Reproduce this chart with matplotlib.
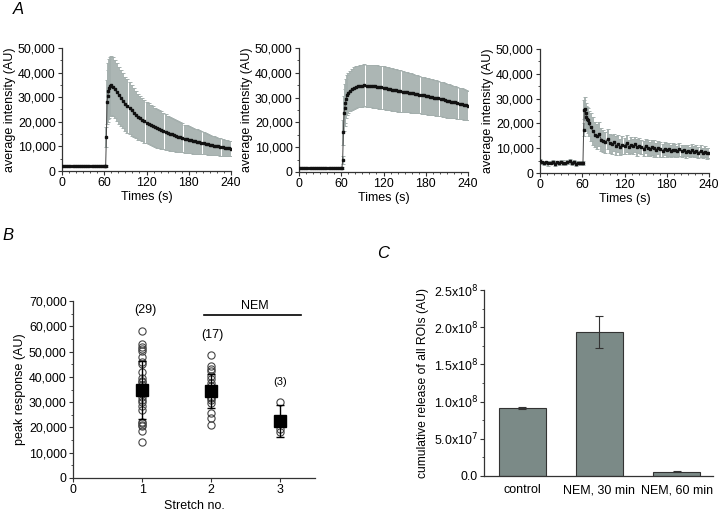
import matplotlib
matplotlib.use("Agg")
import matplotlib.pyplot as plt
from matplotlib.ticker import MultipleLocator, FuncFormatter, FixedLocator

plt.rcParams.update({
    "font.family": ["Liberation Sans", "DejaVu Sans"],
    "font.size": 8.9,
    "axes.linewidth": 0.9,
    "axes.edgecolor": "#333333",
    "xtick.color": "#333333",
    "ytick.color": "#333333",
    "xtick.labelcolor": "black",
    "ytick.labelcolor": "black",
    "xtick.major.size": 3,
    "ytick.major.size": 3,
    "xtick.minor.size": 1.6,
    "ytick.minor.size": 1.6,
    "xtick.major.pad": 1.5,
    "ytick.major.pad": 1.5,
})

W, H = 720, 511

# ---- panel A: time courses (mean and spread, AU) ----
times = ([0, 3, 6, 9, 12, 15, 18, 21, 24, 27, 30, 33, 36, 39, 42, 45, 48, 51, 54, 57, 60]
         + [61, 62, 63, 64, 65, 66, 67, 68, 69]
         + list(range(72, 241, 3)))

a1_mean = [2000, 1950, 2050, 2000, 1980, 2020, 1960, 2000, 2050, 1990, 2010, 1970, 2030, 2000, 1960, 2020, 1990, 2010, 1980, 2000, 2020,
           2000, 2050, 13800, 28000, 30600, 32500, 33600, 34400, 34800,
           34300, 33200, 32000, 30800, 29600, 28500, 27400, 26400, 25500, 24600,
           23700, 22900, 22100, 21400, 20800, 20200, 19700, 19200, 18700, 18200,
           17800, 17400, 17000, 16600, 16200, 15900, 15500, 15200, 14900, 14600,
           14300, 14000, 13700, 13500, 13200, 13000, 12700, 12500, 12300, 12100,
           11900, 11700, 11500, 11300, 11100, 10900, 10700, 10500, 10300, 10200,
           10000, 9800, 9700, 9500, 9300, 9200, 9000]
a1_sd = [320, 300, 310, 290, 300, 310, 300, 320, 290, 300, 310, 300, 290, 310, 300, 320, 300, 290, 310, 300, 300,
         300, 300, 4000, 9000, 10500, 11500, 12000, 12000, 12000,
         11900, 11800, 11700, 11500, 11300, 11200, 11000, 10800, 10500, 10200,
         9900, 9600, 9300, 9000, 8800, 8700, 8500, 8400, 8200, 8100,
         8000, 7900, 7800, 7600, 7400, 7200, 7000, 6900, 6700, 6500,
         6400, 6300, 6100, 5900, 5700, 5500, 5400, 5300, 5200, 5100,
         5000, 4800, 4600, 4500, 4300, 4200, 4000, 3900, 3800, 3700,
         3600, 3500, 3400, 3300, 3200, 3100, 3000]

a2_mean = [1600, 1650, 1550, 1600, 1620, 1580, 1600, 1650, 1570, 1600, 1630, 1580, 1600, 1560, 1620, 1600, 1640, 1580, 1600, 1610, 1650,
           1700, 4800, 16000, 23600, 26000, 27700, 29600, 31000, 31800,
           32600, 33300, 33800, 34200, 34500, 34700, 34800, 34900, 34700, 34800,
           34600, 34500, 34600, 34300, 34200, 34100, 33900, 33800, 33600, 33500,
           33200, 33100, 32900, 32700, 32700, 32400, 32300, 32200, 32000, 31900,
           31700, 31500, 31500, 31200, 31000, 30900, 30700, 30500, 30400, 30100,
           30000, 29800, 29700, 29400, 29300, 29000, 28800, 28700, 28400, 28200,
           28100, 27800, 27600, 27500, 27200, 27000, 26800]
a2_sd = [400, 380, 420, 400, 390, 410, 400, 380, 420, 400, 410, 390, 400, 420, 380, 400, 410, 390, 400, 380, 400,
         400, 1500, 5000, 7000, 7500, 7800, 8000, 8000, 8100,
         8200, 8300, 8350, 8400, 8400, 8400, 8400, 8450, 8500, 8500,
         8550, 8600, 8600, 8650, 8650, 8650, 8650, 8600, 8600, 8600,
         8550, 8550, 8500, 8450, 8400, 8300, 8200, 8100, 8000, 7950,
         7900, 7800, 7700, 7600, 7500, 7450, 7400, 7350, 7300, 7250,
         7200, 7100, 7050, 7000, 6950, 6900, 6850, 6800, 6700, 6600,
         6500, 6400, 6300, 6200, 6100, 6050, 6000]

a3_mean = [4800, 4300, 4100, 4400, 3900, 4200, 4500, 3800, 4300, 4000, 4600, 4200, 3900, 4400, 4700, 4100, 4300, 3800, 4200, 3900, 4100,
           4000, 17500, 25600, 26000, 24000, 22700, 21800, 21300, 20000,
           18500, 17000, 15500, 14800, 15600, 13500, 13000, 12400, 13800, 12000,
           11500, 12300, 11000, 11800, 10600, 11200, 10900, 12000, 10500, 11400,
           10700, 11500, 10300, 11000, 10600, 9800, 10800, 10100, 9600, 10400,
           9900, 9400, 10200, 9500, 9000, 9800, 9300, 9600, 8900, 9400,
           9100, 8700, 9500, 8800, 9200, 8600, 9000, 8400, 9100, 8500,
           8800, 8200, 8900, 8100, 8600, 7900, 8200]
a3_sd = [900, 700, 800, 600, 900, 700, 800, 1000, 700, 800, 600, 900, 700, 800, 900, 700, 800, 900, 700, 800, 700,
         700, 2500, 4000, 4500, 4300, 4500, 4800, 5000, 5200,
         5500, 5600, 5200, 5000, 4800, 4600, 4500, 4200, 4000, 3800,
         3700, 3600, 3800, 3500, 3300, 3600, 3200, 3400, 3000, 3200,
         3100, 2900, 3300, 3000, 2800, 3100, 2900, 3200, 2700, 3000,
         3300, 2800, 2600, 2900, 2700, 2500, 2800, 2600, 2400, 2700,
         2500, 2300, 2600, 2400, 2200, 2500, 2300, 2100, 2400, 2200,
         2300, 2100, 2400, 2000, 2200, 2100, 2000]

# ---- panel B: peak responses per stretch ----
stretch_no = [1, 2, 3]
stretch1_peaks = [58300, 52900, 51900, 51000, 50300, 47700, 46000, 44900, 42000, 39400,
                  38500, 37800, 36800, 36000, 35500, 34800, 34100, 33100, 31900, 31000,
                  30200, 28600, 26900, 22300, 21600, 21000, 20400, 18400, 14400]
stretch2_peaks = [48600, 44400, 43300, 42400, 40300, 39000, 37400, 36400, 34800, 33500,
                  32200, 31500, 30900, 29600, 25600, 23600, 21000]
stretch3_peaks = [30000, 19500, 18300]
peak_mean = [34800, 34400, 22600]
peak_sd = [11500, 6900, 6300]
n_labels = ["(29)", "(17)", "(3)"]

# ---- panel C: cumulative release ----
conditions = ["control", "NEM, 30 min", "NEM, 60 min"]
release = [9.17e7, 1.94e8, 5.8e6]
release_err = [1.0e6, 2.15e7, 4e5]
c_ticks = [0, 5e7, 1e8, 1.5e8, 2e8, 2.5e8]
c_tick_labels = ["0.0", r"5.0x10$^{7}$", r"1.0x10$^{8}$", r"1.5x10$^{8}$",
                 r"2.0x10$^{8}$", r"2.5x10$^{8}$"]

fig = plt.figure(figsize=(W / 100, H / 100), dpi=100)


def px_axes(l, t, r, b):
    return fig.add_axes([l / W, 1 - b / H, (r - l) / W, (b - t) / H])


comma = FuncFormatter(lambda v, p: f"{int(v):,}")


def clean(ax):
    for s in ("top", "right"):
        ax.spines[s].set_visible(False)
    ax.tick_params(which="both", direction="out")


# panel A
a_boxes = [(62, 48, 231, 171), (299, 48, 468, 172), (540, 49, 709, 173)]
a_data = [(a1_mean, a1_sd), (a2_mean, a2_sd), (a3_mean, a3_sd)]
for box, (m, s) in zip(a_boxes, a_data):
    ax = px_axes(*box)
    clean(ax)
    ax.errorbar(times, m, yerr=s, fmt="none", ecolor="#a4afad",
                elinewidth=1.3, capsize=1.1, capthick=0.7, zorder=2)
    ax.plot(times, m, color="#444444", lw=0.7, zorder=3)
    ax.plot(times, m, ls="none", marker="s", ms=1.9, color="#111111", zorder=4)
    ax.set_xlim(0, 240)
    ax.set_ylim(0, 50000)
    ax.xaxis.set_major_locator(MultipleLocator(60))
    ax.xaxis.set_minor_locator(MultipleLocator(10))
    ax.yaxis.set_major_locator(MultipleLocator(10000))
    ax.yaxis.set_minor_locator(MultipleLocator(5000))
    ax.yaxis.set_major_formatter(comma)
    ax.set_xlabel("Times (s)", fontsize=9, labelpad=1)
    ax.set_ylabel("average intensity (AU)", fontsize=9, labelpad=1)

fig.text(13 / W, 1 - 9 / H, "A", fontsize=12, style="italic", va="center")

# panel B
axb = px_axes(73, 301, 315, 478)
clean(axb)
for x, vals in zip(stretch_no, [stretch1_peaks, stretch2_peaks, stretch3_peaks]):
    axb.plot([x] * len(vals), vals, ls="none", marker="o", ms=5.2,
             mfc="none", mec="#444444", mew=0.8, zorder=3)
axb.errorbar(stretch_no, peak_mean, yerr=peak_sd, fmt="s", ms=8,
             color="black", ecolor="black", elinewidth=1.0, capsize=3,
             zorder=4)
for x, y, lab, fs in zip(stretch_no, [66600, 56500, 37800], n_labels, [9, 9, 8]):
    axb.text(x + (0.05 if x == 1 else 0.02 if x == 2 else 0), y, lab,
             ha="center", va="center", fontsize=fs)
axb.plot([1.89, 3.3], [64400, 64400], color="black", lw=1.2)
axb.text(2.63, 67900, "NEM", ha="center", va="center", fontsize=9)
axb.set_xlim(0, 3.5)
axb.set_ylim(0, 70000)
axb.set_xticks([0, 1, 2, 3])
axb.yaxis.set_major_locator(MultipleLocator(10000))
axb.yaxis.set_minor_locator(MultipleLocator(5000))
axb.yaxis.set_major_formatter(comma)
axb.set_xlabel("Stretch no.", fontsize=9, labelpad=3)
axb.set_ylabel("peak response (AU)", fontsize=9, labelpad=2)
fig.text(2 / W, 1 - 236 / H, "B", fontsize=12, style="italic", va="center")

# panel C
axc = px_axes(484, 290, 713, 476)
clean(axc)
xc = [1, 2, 3]
axc.bar(xc, release, width=0.61, color="#7b8a87", edgecolor="#333333",
        linewidth=0.8, zorder=2)
axc.errorbar(xc, release, yerr=release_err, fmt="none", ecolor="#333333",
             elinewidth=0.8, capsize=3, capthick=0.8, zorder=3)
axc.set_xlim(0.506, 3.47)
axc.set_ylim(0, 2.5e8)
axc.set_xticks(xc)
axc.set_xticklabels(conditions, fontsize=9)
axc.tick_params(axis="x", length=0, pad=6)
axc.yaxis.set_major_locator(FixedLocator(c_ticks))
axc.set_yticklabels(c_tick_labels)
axc.yaxis.set_minor_locator(MultipleLocator(2.5e7))
axc.set_ylabel("cumulative release of all ROIs (AU)", fontsize=8.7, labelpad=3)
fig.text(377 / W, 1 - 253 / H, "C", fontsize=12, style="italic", va="center")

fig.savefig("out.png", dpi=100)
